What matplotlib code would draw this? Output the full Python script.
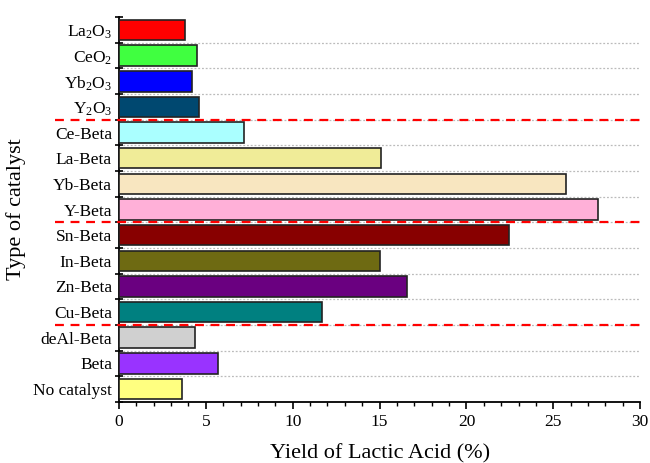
import matplotlib.pyplot as plt
from matplotlib.ticker import MultipleLocator, FixedLocator

plt.rcParams['font.family'] = ['Liberation Serif', 'DejaVu Serif']
plt.rcParams['mathtext.fontset'] = 'custom'
plt.rcParams['mathtext.rm'] = 'Liberation Serif'
plt.rcParams['mathtext.it'] = 'Liberation Serif:italic'

# ── data (bottom to top) ─────────────────────────────────────────────────────
catalysts = ['No catalyst', 'Beta', 'deAl-Beta',
             'Cu-Beta', 'Zn-Beta', 'In-Beta', 'Sn-Beta',
             'Y-Beta', 'Yb-Beta', 'La-Beta', 'Ce-Beta',
             r'Y$_2$O$_3$', r'Yb$_2$O$_3$', r'CeO$_2$', r'La$_2$O$_3$']
yields = [3.65, 5.7, 4.4,
          11.7, 16.55, 15.05, 22.45,
          27.55, 25.75, 15.1, 7.2,
          4.6, 4.2, 4.5, 3.8]
colors = ['#FFFF80', '#9933FF', '#D0D0D0',
          '#008080', '#6A0080', '#6E6A12', '#880000',
          '#FFB0D8', '#F8E6C0', '#F0EC98', '#AAFFFF',
          '#004870', '#0000FF', '#40FF40', '#FF0000']
group_breaks = [2.5, 6.5, 10.5]

# ── figure ───────────────────────────────────────────────────────────────────
fig = plt.figure(figsize=(6.5, 4.63), dpi=100)
ax = fig.add_axes([0.183, 0.132, 0.802, 0.831])

ypos = list(range(len(catalysts)))
ax.barh(ypos, yields, height=0.8, color=colors, edgecolor='#222222',
        linewidth=1.2, zorder=3)

# dotted separators between categories
for b in range(len(catalysts) - 1):
    ax.axhline(b + 0.5, xmin=0, xmax=1, color='#BBBBBB', ls=(0, (1.5, 1.5)),
               lw=0.9, zorder=1)

# red dashed group separators, running into the label area
for b in group_breaks:
    ax.axhline(b, xmin=-0.123, xmax=1.008, color='red', ls=(0, (4, 3)),
               lw=1.6, zorder=4, clip_on=False)

ax.set_xlim(0, 30)
ax.set_ylim(-0.5, len(catalysts) - 0.5)

ax.set_yticks(ypos)
ax.set_yticklabels(catalysts, fontsize=12.5)
ax.tick_params(axis='y', which='major', length=0, pad=5)
ax.yaxis.set_minor_locator(FixedLocator([k - 0.5 for k in range(len(catalysts) + 1)]))
ax.tick_params(axis='y', which='minor', direction='inout', length=6, width=1.2)

ax.xaxis.set_major_locator(MultipleLocator(5))
ax.xaxis.set_minor_locator(MultipleLocator(1))
ax.tick_params(axis='x', which='major', direction='out', length=5, width=1.2,
               labelsize=12.5)
ax.tick_params(axis='x', which='minor', direction='out', length=3, width=1.0)

for s in ['top', 'right']:
    ax.spines[s].set_visible(False)
for s in ['left', 'bottom']:
    ax.spines[s].set_linewidth(1.3)

ax.set_xlabel('Yield of Lactic Acid (%)', fontsize=16, labelpad=10)
ax.set_ylabel('Type of catalyst', fontsize=16, labelpad=5)

fig.savefig('out.png', dpi=100)
